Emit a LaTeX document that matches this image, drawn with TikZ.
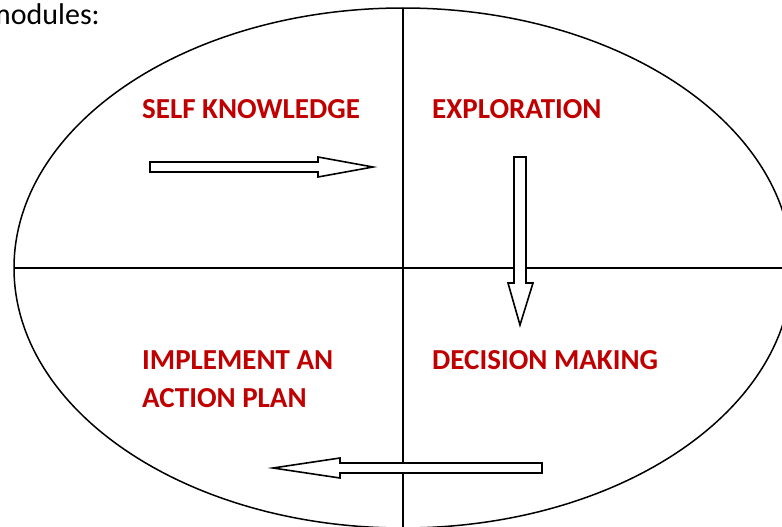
\documentclass[tikz,border=0pt]{standalone}
\usepackage{fontspec}
\setmainfont{Carlito}
\usetikzlibrary{positioning}
\definecolor{modred}{HTML}{C00000}
\tikzset{
  modtext/.style={text=modred, font=\bfseries\fontsize{29}{37.5}\selectfont,
    anchor=base west, inner sep=0pt, align=left},
  blockarrow/.style={draw, fill=white, line width=1.6pt, line join=miter},
}

\begin{document}
\begin{tikzpicture}[x=1pt, y=-1pt]
  \useasboundingbox (0,0) rectangle (782,527);
  % outer ellipse and the two axes
  \draw[line width=1.5pt] (403,268) ellipse [x radius=389, y radius=260];
  \draw[line width=1.7pt] (14,268) -- (782,268);
  \draw[line width=1.7pt] (403,8) -- (403,527);
  \node[anchor=base east, inner sep=0pt, font=\fontsize{30}{36}\selectfont] (intro) at (100,25) {modules:};
  % quadrant titles
  \node[modtext] (self) at (142,118) {SELF KNOWLEDGE};
  \node[modtext] (explore) at (432,118) {EXPLORATION};
  \node[modtext] (implement) at (142,407) {IMPLEMENT AN\\ACTION PLAN};
  \node[modtext] (decide) at (432,369) {DECISION MAKING};
  % block arrows
  \draw[blockarrow] (150,162) -- (318,162) -- (318,157) -- (373,167) -- (318,177) -- (318,172) -- (150,172) -- cycle;
  \draw[blockarrow] (514,157) -- (526,157) -- (526,283) -- (533,283) -- (520,325) -- (508,283) -- (514,283) -- cycle;
  \draw[blockarrow] (542,463) -- (340,463) -- (340,458) -- (273,468) -- (340,478) -- (340,473) -- (542,473) -- cycle;
\end{tikzpicture}
\end{document}
